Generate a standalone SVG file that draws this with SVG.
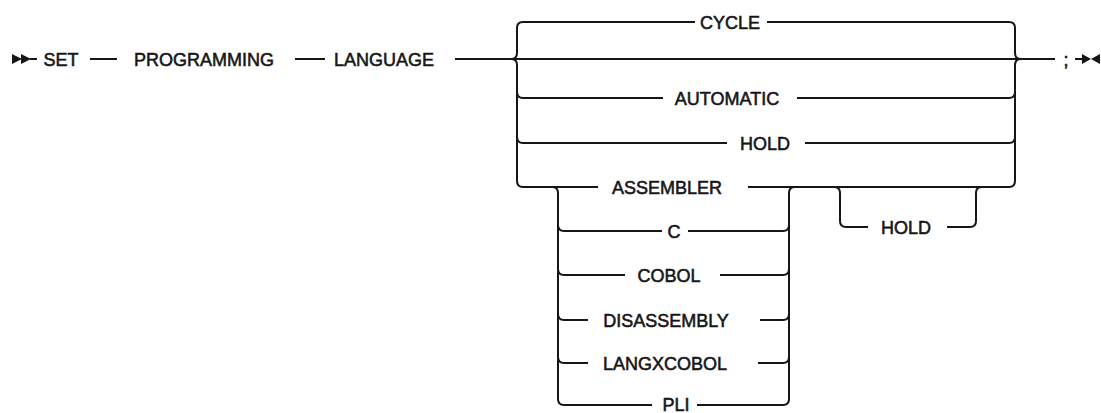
<svg xmlns="http://www.w3.org/2000/svg" width="1101" height="413" viewBox="0 0 1101 413">
<style>
.t{font-family:"Liberation Sans",Arial,sans-serif;font-size:18px;fill:#161616;stroke:#161616;stroke-width:0.55;text-anchor:middle}
.l{fill:none;stroke:#161616;stroke-width:2;stroke-linecap:butt;stroke-linejoin:round}
.a{fill:#161616;stroke:none}
</style>
<rect width="1101" height="413" fill="#ffffff"/>
<g id="connectors">
<polygon class="a" points="12,54 22,59 12,64"/>
<polygon class="a" points="21,54 31,59 21,64"/>
<path class="l" d="M30,59 L37,59 M90,59 L117,59 M295,59 L325,59 M455,59 L1055,59"/>
<path class="l" d="M523,22 Q517,22 517,28 L517,53 Q517,59 511,59 M511,59 Q517,59 517,65 L517,181 Q517,187 523,187 L598,187"/>
<path class="l" d="M523,22 L695,22 M767,22 L1009,22"/>
<path class="l" d="M1009,22 Q1015,22 1015,28 L1015,53 Q1015,59 1021,59 M1021,59 Q1015,59 1015,65 L1015,181 Q1015,187 1009,187 L748,187"/>
<path class="l" d="M517,92 Q517,98 523,98 L663,98 M797,98 L1009,98 Q1015,98 1015,92"/>
<path class="l" d="M517,137 Q517,143 523,143 L727,143 M805,143 L1009,143 Q1015,143 1015,137"/>
<path class="l" d="M552,187 Q558,187 558,193 L558,399 Q558,405 564,405 L652,405 M697,405 L783,405 Q789,405 789,399 L789,193 Q789,187 795,187"/>
<path class="l" d="M558,225 Q558,231 564,231 L662,231 M688,231 L783,231 Q789,231 789,225"/>
<path class="l" d="M558,269 Q558,275 564,275 L625,275 M720,275 L783,275 Q789,275 789,269"/>
<path class="l" d="M558,314 Q558,320 564,320 L588,320 M760,320 L783,320 Q789,320 789,314"/>
<path class="l" d="M558,357 Q558,363 564,363 L588,363 M758,363 L783,363 Q789,363 789,357"/>
<path class="l" d="M834,187 Q840,187 840,193 L840,221 Q840,227 846,227 L868,227 M947,227 L970,227 Q976,227 976,221 L976,193 Q976,187 982,187"/>
<path class="l" d="M1075,59 L1084,59"/>
<polygon class="a" points="1082,54 1091,59 1082,64"/>
<polygon class="a" points="1100,54 1091,59 1100,64"/>
</g>
<g id="n-set"><text class="t" x="61" y="65.5">SET</text></g>
<g id="n-programming"><text class="t" x="204" y="65.5">PROGRAMMING</text></g>
<g id="n-language"><text class="t" x="384" y="65.5">LANGUAGE</text></g>
<g id="n-cycle"><text class="t" x="730" y="28.5">CYCLE</text></g>
<g id="n-automatic"><text class="t" x="727" y="104.5">AUTOMATIC</text></g>
<g id="n-hold1"><text class="t" x="765" y="149.5">HOLD</text></g>
<g id="n-assembler"><text class="t" x="667" y="193.5">ASSEMBLER</text></g>
<g id="n-c"><text class="t" x="674" y="237.5">C</text></g>
<g id="n-cobol"><text class="t" x="669" y="281.5">COBOL</text></g>
<g id="n-disassembly"><text class="t" x="666" y="326.5">DISASSEMBLY</text></g>
<g id="n-langxcobol"><text class="t" x="665" y="369.5">LANGXCOBOL</text></g>
<g id="n-pli"><text class="t" x="676" y="410.5">PLI</text></g>
<g id="n-hold2"><text class="t" x="906" y="233.5">HOLD</text></g>
<g id="n-semicolon"><text class="t" x="1066" y="65.5">;</text></g>
</svg>
